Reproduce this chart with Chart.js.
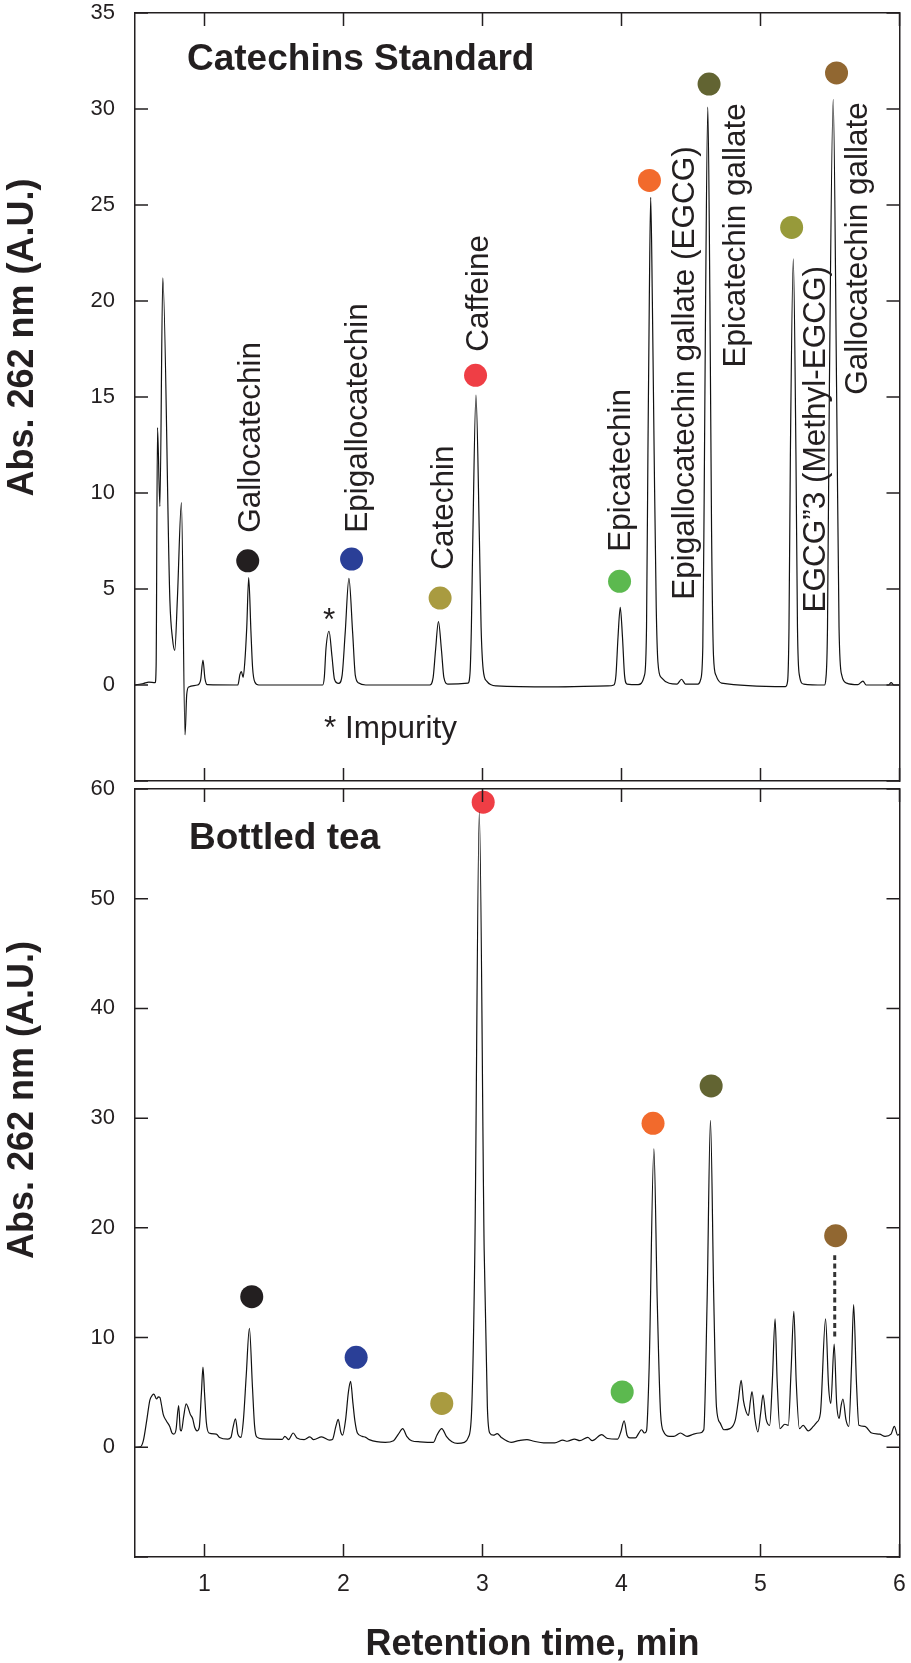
<!DOCTYPE html>
<html>
<head>
<meta charset="utf-8">
<script src="https://cdn.jsdelivr.net/npm/chart.js@4.4.1/dist/chart.umd.min.js"></script>
<style>
  body { margin: 0; background: #fff; width: 911px; height: 1663px; position: relative; overflow: hidden; }
  canvas { position: absolute; left: 0; }
  #stdChart { top: 0; }
  #teaChart { top: 740px; }
</style>
</head>
<body>
<canvas id="stdChart" width="911" height="800"></canvas>
<canvas id="teaChart" width="911" height="923"></canvas>
<script>
const INK = '#231f20';
const FONT = "'Liberation Sans', Arial, Helvetica, sans-serif";

// Catechins standard chromatogram (retention time in min, absorbance in A.U.)
const stdTime = [0.50, 0.56, 0.60, 0.645, 0.652, 0.662, 0.679, 0.700, 0.751, 0.770, 0.786, 0.805, 0.834, 0.860, 0.872, 0.887,
  0.950, 0.972, 0.989, 1.003, 1.020, 1.240, 1.255, 1.265, 1.278, 1.290, 1.304, 1.318, 1.334, 1.346, 1.362, 1.390,
  1.850, 1.862, 1.874, 1.896, 1.917, 1.935, 1.965, 1.990, 2.012, 2.039, 2.066, 2.085, 2.110, 2.160,
  2.620, 2.645, 2.662, 2.683, 2.705, 2.722, 2.750,
  2.895, 2.910, 2.920, 2.930, 2.953, 2.978, 2.990, 3.005, 3.030, 3.100, 3.500, 3.900,
  3.945, 3.960, 3.975, 3.991, 4.007, 4.022, 4.040, 4.120,
  4.165, 4.180, 4.190, 4.200, 4.210, 4.222, 4.235, 4.250, 4.262, 4.285, 4.400, 4.432, 4.460, 4.550,
  4.570, 4.585, 4.595, 4.605, 4.621, 4.636, 4.648, 4.662, 4.680, 4.720, 5.180,
  5.195, 5.205, 5.215, 5.236, 5.255, 5.266, 5.280, 5.310, 5.460,
  5.470, 5.482, 5.495, 5.523, 5.548, 5.565, 5.585, 5.620, 5.700, 5.737, 5.760, 5.920, 5.940, 5.960, 6.000];
const stdAbs = [0.00, 0.08, 0.15, 0.12, 1.0, 13.4, 9.3, 21.2, 4.4, 2.4, 1.8, 4.5, 9.5, -2.6, -0.5, -0.1,
  0.00, 0.25, 1.3, 0.35, 0.02, 0.00, 0.55, 0.7, 0.4, 1.2, 3.0, 5.6, 2.8, 0.9, 0.15, 0.00,
  0.00, 0.4, 1.9, 2.8, 1.5, 0.3, 0.08, 0.5, 2.7, 5.55, 2.7, 0.5, 0.1, 0.00,
  0.00, 0.4, 1.8, 3.3, 1.8, 0.4, 0.05,
  0.1, 0.6, 3.0, 7.5, 15.1, 7.5, 3.0, 0.8, 0.2, -0.05, -0.1, -0.05,
  0.00, 0.5, 2.5, 4.05, 2.5, 0.5, 0.05, 0.02,
  0.5, 3.0, 12.0, 20.0, 25.4, 20.0, 12.0, 4.0, 1.2, 0.4, 0.05, 0.3, 0.05, 0.05,
  0.3, 2.0, 10.0, 20.0, 30.1, 20.0, 8.0, 1.5, 0.5, 0.1, -0.08,
  0.2, 3.0, 12.0, 22.2, 12.0, 3.0, 0.5, 0.05, 0.00,
  0.3, 3.0, 15.0, 30.5, 15.0, 3.0, 0.5, 0.1, 0.02, 0.2, 0.00, 0.00, 0.12, 0.00, 0.00];

// Bottled tea chromatogram
const teaTime = [0.50, 0.54, 0.56, 0.585, 0.607, 0.625, 0.636, 0.655, 0.668, 0.679, 0.690, 0.703, 0.726, 0.750, 0.766, 0.779,
  0.795, 0.814, 0.826, 0.834, 0.850, 0.868, 0.880, 0.898, 0.915, 0.930, 0.946, 0.962, 0.978, 0.989, 1.000, 1.013,
  1.032, 1.085, 1.108, 1.168, 1.190, 1.205, 1.223, 1.240, 1.262, 1.280, 1.300, 1.323, 1.345, 1.360, 1.375, 1.420,
  1.560, 1.578, 1.605, 1.638, 1.665, 1.717, 1.758, 1.785, 1.843, 1.900, 1.920, 1.945, 1.962, 1.980, 1.993, 2.015,
  2.035, 2.051, 2.068, 2.082, 2.100, 2.135, 2.160, 2.185, 2.300, 2.360, 2.395, 2.426, 2.455, 2.490, 2.550, 2.647,
  2.672, 2.707, 2.740, 2.780, 2.820, 2.870, 2.898, 2.921, 2.945, 2.977, 3.012, 3.035, 3.052, 3.078, 3.106, 3.135,
  3.206, 3.260, 3.320, 3.370, 3.440, 3.520, 3.578, 3.610, 3.662, 3.700, 3.757, 3.790, 3.857, 3.900, 3.972, 3.995,
  4.019, 4.040, 4.060, 4.100, 4.125, 4.144, 4.165, 4.180, 4.199, 4.233, 4.257, 4.281, 4.304, 4.345, 4.376, 4.424,
  4.472, 4.519, 4.560, 4.592, 4.616, 4.640, 4.664, 4.683, 4.710, 4.736, 4.780, 4.819, 4.840, 4.861, 4.878, 4.895,
  4.913, 4.928, 4.939, 4.960, 4.981, 5.002, 5.018, 5.040, 5.066, 5.085, 5.105, 5.120, 5.140, 5.175, 5.200, 5.220,
  5.240, 5.257, 5.280, 5.307, 5.343, 5.380, 5.403, 5.431, 5.468, 5.490, 5.506, 5.530, 5.548, 5.566, 5.580, 5.593,
  5.615, 5.635, 5.655, 5.670, 5.690, 5.708, 5.750, 5.800, 5.857, 5.896, 5.939, 5.963, 5.987, 6.000];
const teaAbs = [0.00, 0.05, 0.6, 2.5, 4.3, 4.75, 4.85, 4.4, 4.6, 4.55, 3.9, 3.0, 2.4, 1.9, 1.3, 1.2,
  1.6, 3.8, 1.6, 1.5, 2.8, 3.95, 3.7, 3.0, 2.6, 1.8, 1.5, 1.8, 5.0, 7.3, 5.0, 2.3,
  1.3, 1.2, 0.9, 0.75, 0.9, 1.8, 2.6, 1.2, 0.9, 2.5, 6.5, 10.85, 5.5, 2.0, 0.95, 0.76,
  0.73, 1.0, 0.7, 1.3, 0.85, 0.7, 0.95, 0.7, 0.95, 0.65, 0.7, 1.9, 2.55, 1.4, 1.1, 2.5,
  5.0, 6.0, 4.0, 2.4, 1.3, 1.0, 0.9, 0.7, 0.45, 0.6, 1.2, 1.7, 1.0, 0.6, 0.5, 0.45,
  1.1, 1.7, 1.0, 0.5, 0.35, 0.45, 0.9, 3.1, 18.0, 57.9, 18.0, 3.7, 1.3, 1.1, 1.25, 0.9,
  0.45, 0.6, 0.7, 0.55, 0.4, 0.4, 0.65, 0.55, 0.75, 0.6, 0.9, 0.6, 1.15, 0.8, 0.75, 1.4,
  2.4, 1.1, 0.85, 0.85, 1.3, 1.6, 1.3, 1.5, 7.3, 27.2, 13.4, 3.1, 1.4, 1.0, 1.0, 1.3,
  1.0, 1.2, 1.3, 1.6, 13.4, 29.8, 13.4, 3.7, 2.2, 1.6, 1.7, 2.5, 4.2, 6.1, 4.2, 3.3,
  2.9, 4.3, 5.07, 2.6, 1.4, 3.2, 4.77, 2.6, 2.0, 6.0, 11.7, 6.0, 1.7, 2.1, 2.0, 7.0,
  12.4, 6.0, 1.7, 2.0, 1.5, 1.9, 2.25, 3.1, 11.7, 5.5, 4.0, 9.4, 4.0, 2.64, 3.8, 4.4,
  2.5, 1.9, 7.5, 13.0, 6.0, 2.0, 1.9, 1.3, 1.2, 1.0, 1.2, 1.9, 1.1, 1.2];

// tick values
const timeTicks = [1, 2, 3, 4, 5, 6];
const stdAbsTicks = [-5, 0, 5, 10, 15, 20, 25, 30, 35];
const teaAbsTicks = [-10, 0, 10, 20, 30, 40, 50, 60];

// peak markers (same colour = same compound in both panels)
const compoundColors = {
  GC: '#231f20', EGC: '#2a3f97', C: '#a99b40', CAF: '#ef3e45', EC: '#5cb94f',
  EGCG: '#f26a2c', ECG: '#626432', MEGCG: '#979a3a', GCG: '#916731'
};
const stdMarkerIds = ['GC', 'EGC', 'C', 'CAF', 'EC', 'EGCG', 'ECG', 'MEGCG', 'GCG'];
const stdMarkerX = [1.311, 2.058, 2.695, 2.950, 3.986, 4.201, 4.630, 5.224, 5.547];
const stdMarkerY = [6.47, 6.56, 4.53, 16.13, 5.40, 26.28, 31.30, 23.83, 31.88];
const teaMarkerIds = ['GC', 'EGC', 'C', 'CAF', 'EC', 'EGCG', 'ECG', 'GCG'];
const teaMarkerX = [1.340, 2.091, 2.707, 3.005, 4.005, 4.227, 4.645, 5.541];
const teaMarkerY = [13.73, 8.2, 4.0, 58.8, 5.04, 29.53, 32.94, 19.29];

// compound names written vertically in the standard panel (start of text)
const peakNames = ['Gallocatechin', 'Epigallocatechin', 'Catechin', 'Caffeine', 'Epicatechin',
  'Epigallocatechin gallate (EGCG)', 'Epicatechin gallate', 'EGCG\u201D3 (Methyl-EGCG)', 'Gallocatechin gallate'];
const nameX = [1.400, 2.168, 2.791, 3.041, 4.063, 4.523, 4.888, 5.461, 5.769];
const nameY = [7.93, 7.93, 6.0, 17.36, 6.94, 4.44, 16.53, 3.77, 15.12];

// dotted leader from GCG marker to its peak in the tea panel
const leaderX = [5.534, 5.534];
const leaderY = [10.1, 17.5];

const pts = (xs, ys) => xs.map((x, i) => ({ x: x, y: ys[i] }));

function frameScales(yMin, yMax, yStep, xLabels, xHeight) {
    const grid = { display: false, drawTicks: false };
    const border = { display: true, color: INK, width: 1.5 };
    const noPad = s => { s.paddingTop = 0; s.paddingBottom = 0; s.paddingLeft = 0; s.paddingRight = 0; };
    const xBase = { type: 'linear', min: 0.5, max: 6, grid: grid, border: border };
    const yBase = { type: 'linear', min: yMin, max: yMax, grid: grid, border: border };
    return {
        x: { ...xBase, position: 'bottom',
            ticks: { display: xLabels, stepSize: 1, includeBounds: false, padding: 14, color: INK,
                     font: { family: FONT, size: 23 }, maxRotation: 0, autoSkip: false },
            afterFit: (s) => { noPad(s); s.height = xHeight; } },
        x2: { ...xBase, position: 'top',
            ticks: { display: false, stepSize: 1, includeBounds: false },
            afterFit: (s) => { noPad(s); s.height = 0; } },
        y: { ...yBase, position: 'left',
            ticks: { stepSize: yStep, padding: 20, color: INK, font: { family: FONT, size: 22 },
                     callback: (v) => v < 0 ? '' : v },
            afterFit: (s) => { noPad(s); s.width = 135; } },
        y2: { ...yBase, position: 'right',
            ticks: { display: false, stepSize: yStep },
            afterFit: (s) => { noPad(s); s.width = 0; } }
    };
}

// inward tick marks on all four sides of the frame
function drawInnerTicks(chart, xVals, yVals) {
    const ctx = chart.ctx, a = chart.chartArea, len = 13;
    const xs = chart.scales.x, ys = chart.scales.y;
    ctx.save();
    ctx.strokeStyle = INK;
    ctx.lineWidth = 1.5;
    ctx.beginPath();
    xVals.forEach(v => {
        const p = xs.getPixelForValue(v);
        ctx.moveTo(p, a.top); ctx.lineTo(p, a.top + len);
        ctx.moveTo(p, a.bottom); ctx.lineTo(p, a.bottom - len);
    });
    yVals.forEach(v => {
        const p = ys.getPixelForValue(v);
        ctx.moveTo(a.left, p); ctx.lineTo(a.left + len, p);
        ctx.moveTo(a.right, p); ctx.lineTo(a.right - len, p);
    });
    ctx.stroke();
    ctx.restore();
}

function vText(ctx, text, x, y, font, align) {
    ctx.save();
    ctx.translate(x, y);
    ctx.rotate(-Math.PI / 2);
    ctx.font = font;
    ctx.textAlign = align || 'left';
    ctx.textBaseline = 'alphabetic';
    ctx.fillStyle = INK;
    ctx.fillText(text, 0, 0);
    ctx.restore();
}

function hText(ctx, text, x, y, font, align) {
    ctx.font = font;
    ctx.textAlign = align || 'left';
    ctx.textBaseline = 'alphabetic';
    ctx.fillStyle = INK;
    ctx.fillText(text, x, y);
}

const baseOptions = (scales, padTop) => ({
    responsive: false,
    animation: false,
    devicePixelRatio: 1,
    layout: { padding: { top: padTop, right: 7, left: 0, bottom: 0 } },
    plugins: { legend: { display: false }, tooltip: { enabled: false } },
    scales: scales
});

const traceStyle = {
    borderColor: '#111',
    borderWidth: 1.2,
    pointRadius: 0,
    fill: false,
    cubicInterpolationMode: 'monotone'
};

const markerSet = (ids, xs, ys) => ({
    type: 'scatter',
    data: pts(xs, ys),
    pointRadius: 11.5,
    pointHoverRadius: 11.5,
    pointBorderWidth: 0,
    pointBackgroundColor: ids.map(id => compoundColors[id]),
    showLine: false,
    clip: false
});

// ---- top panel: catechins standard ----
new Chart(document.getElementById('stdChart'), {
    type: 'line',
    data: {
        datasets: [
            { ...traceStyle, data: pts(stdTime, stdAbs) },
            markerSet(stdMarkerIds, stdMarkerX, stdMarkerY)
        ]
    },
    options: baseOptions(frameScales(-5, 35, 5, false, 19), 13),
    plugins: [{
        id: 'stdText',
        afterDraw(chart) {
            const ctx = chart.ctx, xs = chart.scales.x, ys = chart.scales.y;
            drawInnerTicks(chart, timeTicks, stdAbsTicks);
            ctx.save();
            hText(ctx, 'Catechins Standard', 187, 70, `bold 37px ${FONT}`);
            vText(ctx, 'Abs. 262 nm (A.U.)', 33, 337.5, `bold 36px ${FONT}`, 'center');
            peakNames.forEach((name, i) => {
                vText(ctx, name, xs.getPixelForValue(nameX[i]), ys.getPixelForValue(nameY[i]), `31.5px ${FONT}`);
            });
            hText(ctx, '*', xs.getPixelForValue(1.896), ys.getPixelForValue(2.88), `31.5px ${FONT}`, 'center');
            hText(ctx, '* Impurity', xs.getPixelForValue(1.86), ys.getPixelForValue(-2.76), `31.5px ${FONT}`);
            ctx.restore();
        }
    }]
});

// ---- bottom panel: bottled tea ----
new Chart(document.getElementById('teaChart'), {
    type: 'line',
    data: {
        datasets: [
            { ...traceStyle, data: pts(teaTime, teaAbs) },
            { data: pts(leaderX, leaderY), borderColor: '#333', borderWidth: 3, borderDash: [5, 3.5], pointRadius: 0, fill: false },
            markerSet(teaMarkerIds, teaMarkerX, teaMarkerY)
        ]
    },
    options: baseOptions(frameScales(-10, 60, 10, true, 106), 49),
    plugins: [{
        id: 'teaText',
        afterDraw(chart) {
            const ctx = chart.ctx;
            drawInnerTicks(chart, timeTicks, teaAbsTicks);
            ctx.save();
            hText(ctx, 'Bottled tea', 189, 109, `bold 37px ${FONT}`);
            vText(ctx, 'Abs. 262 nm (A.U.)', 33, 360, `bold 36px ${FONT}`, 'center');
            hText(ctx, 'Retention time, min', 532.5, 915, `bold 36px ${FONT}`, 'center');
            ctx.restore();
        }
    }]
});
</script>
</body>
</html>
